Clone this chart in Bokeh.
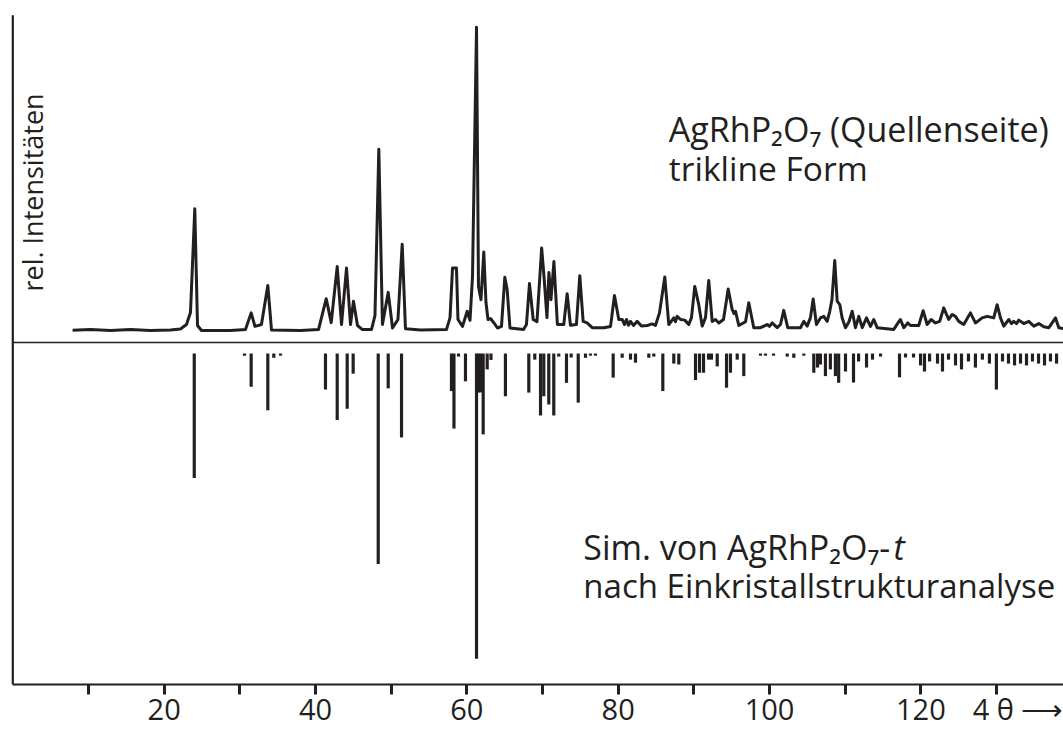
import numpy as np
from bokeh.plotting import figure
from bokeh.models import Range1d, FixedTicker, Label
from bokeh.embed import file_html
from bokeh.resources import INLINE

# ---------------- data ----------------
# measured powder pattern (4 theta, rel. intensity incl. background)
pattern_x = [7.9, 10.27, 12.91, 15.55, 18.2, 20.84, 22.16, 22.95, 23.48, 24.05, 24.41, 24.94,
             28.77, 30.75, 31.5, 32.0, 32.86, 33.7, 34.19, 38.02, 40.4, 41.42, 42.08, 42.87,
             43.44, 44.1, 44.63, 45.02, 45.55, 46.21, 47.4, 47.86, 48.37, 48.85, 49.61, 50.18,
             50.9, 51.46, 51.89, 53.88, 57.31, 57.78, 58.11, 58.63, 58.83, 59.43, 60.05, 60.42,
             60.75, 61.28, 61.54, 61.87, 62.24, 62.53, 62.8, 63.13, 63.59, 64.05, 64.58, 65.02,
             65.33, 65.7, 67.49, 67.88, 68.28, 68.77, 69.27, 69.89, 70.19, 70.59, 70.85, 71.12,
             71.51, 71.97, 72.81, 73.26, 73.69, 74.48, 74.93, 75.37, 75.9, 76.57, 78.1, 78.99,
             79.51, 80.08, 80.53, 80.84, 81.1, 81.36, 81.63, 82.02, 82.51, 83.08, 83.83, 84.49,
             84.93, 85.46, 86.16, 86.69, 87.35, 87.57, 87.8, 88.24, 88.8, 89.33, 89.69, 90.12,
             90.65, 91.1, 91.54, 91.97, 92.42, 92.86, 93.3, 93.92, 94.54, 95.07, 95.31, 95.51,
             95.94, 96.83, 97.26, 97.92, 98.81, 99.69, 100.0, 100.35, 101.01, 101.45, 101.88,
             102.41, 104.09, 104.53, 104.98, 105.41, 105.77, 106.2, 106.73, 107.17, 107.62,
             107.96, 108.25, 108.62, 108.94, 109.29, 109.6, 110.04, 110.5, 110.93, 111.36,
             111.8, 112.25, 112.82, 113.34, 113.78, 114.23, 116.42, 116.91, 117.3, 117.74,
             118.27, 118.62, 119.72, 120.3, 120.83, 121.36, 121.93, 122.49, 123.02, 123.68,
             124.13, 124.57, 125.01, 125.67, 126.55, 127.21, 128.1, 128.76, 129.63, 130.08,
             130.52, 130.96, 131.62, 131.98, 132.28, 132.64, 132.94, 133.6, 134.26, 134.93,
             135.59, 136.25, 136.91, 137.8, 138.23, 138.85]
pattern_y = [3.9, 4.1, 3.8, 4.1, 3.8, 3.96, 4.3, 5.7, 9.5, 42.4, 5.4, 3.8,
             3.8, 4.1, 9.4, 5.1, 5.7, 18.1, 3.96, 3.8, 4.1, 13.9, 6.3, 24.1,
             5.7, 23.6, 5.7, 13.1, 5.4, 4.1, 4.1, 8.5, 61.3, 5.7, 15.9, 4.6,
             7.3, 31.2, 4.4, 4.0, 4.1, 7.9, 23.6, 23.6, 7.3, 5.1, 9.9, 7.0,
             21.0, 100.0, 17.8, 13.6, 28.7, 12.7, 7.3, 7.6, 6.2, 4.6, 5.1, 20.7,
             16.8, 4.6, 4.1, 5.7, 18.7, 7.3, 6.6, 30.0, 21.2, 7.9, 22.2, 13.6,
             25.7, 5.7, 5.7, 15.5, 5.5, 5.7, 21.2, 6.7, 6.2, 4.7, 4.7, 5.1,
             14.9, 7.3, 7.3, 5.7, 7.3, 5.5, 6.7, 5.4, 6.7, 5.2, 5.4, 5.9,
             5.4, 9.4, 20.8, 5.7, 7.8, 6.6, 8.3, 7.3, 7.1, 5.7, 7.9, 17.8,
             12.0, 5.2, 7.9, 19.7, 6.7, 7.3, 6.2, 7.3, 17.0, 10.4, 9.2, 9.9,
             5.4, 6.6, 12.6, 4.7, 4.7, 5.7, 5.1, 6.2, 4.7, 5.7, 10.2,
             4.7, 4.7, 6.7, 5.2, 7.9, 13.8, 5.7, 7.8, 8.3, 6.7,
             9.9, 13.6, 26.0, 13.1, 12.0, 7.8, 4.7, 6.6, 9.9, 4.7,
             8.3, 4.7, 7.8, 5.1, 7.3, 4.7, 4.1, 6.0, 7.3, 4.7,
             6.2, 5.4, 5.4, 10.1, 5.7, 7.3, 6.2, 6.7, 11.0, 7.3,
             8.9, 8.3, 6.7, 5.7, 9.4, 6.2, 7.8, 8.3, 7.8, 12.0,
             7.8, 5.2, 7.3, 6.0, 6.7, 6.0, 7.1, 6.0, 6.7, 5.2,
             6.0, 5.0, 4.7, 7.8, 4.7, 4.4]

# simulated reflections (4 theta, rel. intensity in %)
sim_x = [23.98, 30.62, 31.5, 33.7, 34.49, 35.38, 41.32, 42.87, 44.19, 44.98, 48.29, 49.61,
         51.37, 57.97, 58.3, 58.9, 59.82, 61.28, 61.58, 61.87, 62.16, 62.69, 63.19, 65.1,
         68.19, 68.98, 69.74, 70.17, 70.83, 71.49, 72.15, 73.17, 73.79, 74.72, 75.68, 76.34,
         77.0, 79.34, 80.53, 81.63, 82.29, 84.05, 84.71, 85.9, 87.35, 88.01, 90.22, 90.75,
         91.28, 91.94, 92.33, 93.09, 94.32, 94.84, 95.73, 96.6, 98.81, 99.47, 100.53, 102.34,
         103.21, 104.53, 105.85, 106.34, 106.73, 107.39, 108.04, 108.71, 109.14, 110.04,
         111.1, 111.77, 112.82, 113.61, 114.67, 117.18, 117.97, 119.03, 119.96, 120.48,
         121.15, 122.2, 122.86, 123.65, 124.58, 125.37, 126.29, 127.21, 128.13, 129.06,
         129.98, 130.79, 131.58, 132.38, 133.17, 133.96, 134.75, 135.55, 136.34, 137.13, 137.93]
sim_i = [40.8, 0.7, 10.9, 18.6, 1.4, 0.7, 11.8, 21.8, 18.1, 6.6, 69.0, 11.4,
         27.5, 12.3, 24.6, 1.0, 9.1, 100.0, 12.8, 12.7, 26.5, 5.2, 2.1, 14.0,
         12.8, 2.0, 20.3, 14.0, 16.7, 20.3, 1.0, 9.6, 1.3, 16.1, 1.4, 0.7,
         0.7, 7.9, 1.4, 2.0, 3.0, 1.4, 1.0, 12.3, 3.3, 3.6, 8.7, 6.3,
         6.3, 2.0, 2.0, 4.2, 11.2, 6.3, 2.0, 7.4, 0.7, 0.7, 0.7, 1.0,
         1.4, 0.7, 6.3, 4.6, 3.6, 7.4, 5.2, 7.4, 9.6, 5.9,
         9.5, 2.6, 4.6, 2.0, 1.0, 7.8, 1.3, 1.3, 3.9, 5.9,
         2.6, 3.3, 5.9, 2.0, 3.9, 5.2, 2.6, 4.6, 2.0, 3.3,
         11.8, 2.6, 3.3, 3.9, 3.3, 3.9, 2.6, 3.3, 3.9, 2.6, 3.3]

tick_values = [10, 20, 30, 40, 50, 60, 70, 80, 90, 100, 110, 120, 130]
tick_labels = {10: "", 20: "20", 30: "", 40: "40", 50: "", 60: "60", 70: "", 80: "80",
               90: "", 100: "100", 110: "", 120: "120",
               130: "\u2003\u2002 4 \u03b8 \u27f6"}

# ---------------- styling / layout constants ----------------
INK = "#231f20"
FONT = "Open Sans"
STICK_TOP = -3.5      # sticks hang a little below the zero line
STICK_SCALE = 0.968   # 100 % stick length relative to the pattern's 100 %

p = figure(width=1063, height=730,
           x_range=Range1d(-1.625, 138.85), y_range=Range1d(-108.5, 108.5),
           output_backend="svg", toolbar_location=None,
           y_axis_location=None,
           min_border_left=0, min_border_right=0, min_border_top=0, min_border_bottom=44)
p.grid.visible = False
p.outline_line_color = None
p.background_fill_color = "white"
p.border_fill_color = "white"

# x axis
ax = p.xaxis[0]
ax.ticker = FixedTicker(ticks=tick_values)
ax.major_label_overrides = tick_labels
ax.bounds = (0, 140)
ax.axis_line_color = INK
ax.axis_line_width = 2.2
ax.major_tick_line_color = INK
ax.major_tick_line_width = 3
ax.major_tick_out = 10
ax.major_tick_in = 0
ax.minor_tick_line_color = None
ax.major_label_text_font = FONT
ax.major_label_text_font_size = "29px"
ax.major_label_text_color = INK
ax.major_label_standoff = -6

# left axis line and zero line
p.segment(x0=[0], y0=[-108.5], x1=[0], y1=[103.8], line_color=INK, line_width=2.2)
p.segment(x0=[0], y0=[0], x1=[140], y1=[0], line_color=INK, line_width=1.3)

# simulated sticks (pointing down)
sx = np.array(sim_x)
si = np.array(sim_i)
p.vbar(x=sx, top=STICK_TOP, bottom=STICK_TOP - si * STICK_SCALE, width=0.42,
       fill_color=INK, line_color=None)

# measured pattern
p.line(pattern_x, pattern_y, line_color=INK, line_width=3.0, line_join="round")

# texts
def lab(x, y, text, size="33.5px", style="normal", align="left", angle=0.0):
    p.add_layout(Label(x=x, y=y, text=text, text_font=FONT, text_font_size=size,
                       text_font_style=style, text_color=INK, text_align=align,
                       text_baseline="alphabetic", angle=angle, angle_units="deg"))

lab(86.7, 67.7, "AgRhP\u2082O\u2087 (Quellenseite)", size="34px")
lab(86.7, 55.3, "trikline Form")
lab(75.4, -65.0, "Sim. von AgRhP\u2082O\u2087-", size="34px")
lab(116.4, -65.0, "t", size="34px", style="italic")
lab(75.4, -77.1, "nach Einkristallstrukturanalyse", size="33px")
lab(2.6, 47.6, "rel. Intensitäten", size="27px", align="center", angle=90)

open("out.html", "w").write(file_html(p, INLINE))
